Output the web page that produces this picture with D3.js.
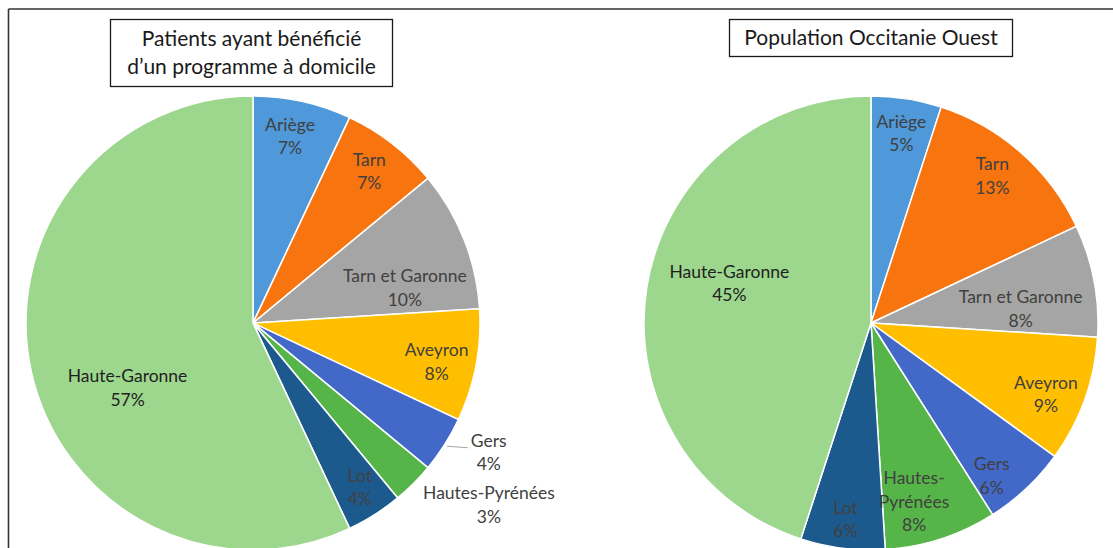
<!DOCTYPE html>
<html>
<head>
<meta charset="utf-8">
<script src="https://cdn.jsdelivr.net/npm/d3@7"></script>
<style>
    body { margin: 0; background: #fff; }
    svg { display: block; }
    text { font-family: Lato, "Open Sans", sans-serif; }
</style>
</head>
<body>
<svg id="chart" width="1113" height="548"></svg>
<script>
// departments, in pie order (clockwise from 12 o'clock)
const departments = ['Ariège', 'Tarn', 'Tarn et Garonne', 'Aveyron', 'Gers', 'Hautes-Pyrénées', 'Lot', 'Haute-Garonne'];
const patientsPct = [7, 7, 10, 8, 4, 3, 4, 57];
const populationPct = [5, 13, 8, 9, 6, 8, 6, 45];
const titles = [['Patients ayant bénéficié', 'd\u2019un programme à domicile'], ['Population Occitanie Ouest']];

const colors = {
    'Ariège': '#4f98d9',
    'Tarn': '#f7740e',
    'Tarn et Garonne': '#a5a5a5',
    'Aveyron': '#ffbf00',
    'Gers': '#4269c8',
    'Hautes-Pyrénées': '#56b548',
    'Lot': '#1c5a8e',
    'Haute-Garonne': '#9dd68d'
};

const svg = d3.select('#chart');

// outer frame (only top and left edges are visible)
svg.append('line').attr('x1', 8.5).attr('y1', 9).attr('x2', 1113).attr('y2', 9)
    .attr('stroke', '#333').attr('stroke-width', 1.6);
svg.append('line').attr('x1', 8.5).attr('y1', 9).attr('x2', 8.5).attr('y2', 548)
    .attr('stroke', '#333').attr('stroke-width', 1.6);

const radius = 227;
const pie = d3.pie().sort(null).value(d => d.value);
const arc = d3.arc().innerRadius(0).outerRadius(radius);
const labelArc = d3.arc().innerRadius(188).outerRadius(188);

// label nudges (best-fit placement)
const nudgeLeft = {
    'Ariège': [-4, -3], 'Tarn': [1, -3], 'Tarn et Garonne': [-23, 34], 'Aveyron': [-1, 4],
    'Gers': [77, 29], 'Hautes-Pyrénées': [103, 49], 'Lot': [6, 6], 'Haute-Garonne': [58, 24]
};
const nudgeRight = {
    'Ariège': [1, -4], 'Tarn': [-3, -6], 'Tarn et Garonne': [-35, 21], 'Aveyron': [-2, 8],
    'Gers': [-8, 16], 'Hautes-Pyrénées': [-15, 0], 'Lot': [-2, 10], 'Haute-Garonne': [44, -10]
};

function drawPie(cx, cy, values, nudge, outside) {
    const data = departments.map((name, i) => ({ name, value: values[i] }));
    const g = svg.append('g').attr('transform', `translate(${cx},${cy})`);
    const arcs = pie(data);

    g.selectAll('path')
        .data(arcs)
        .enter()
        .append('path')
        .attr('d', arc)
        .attr('fill', d => colors[d.data.name])
        .attr('stroke', '#fff')
        .attr('stroke-width', 1.5);

    arcs.forEach(d => {
        const c = labelArc.centroid(d);
        const n = nudge[d.data.name];
        const x = c[0] + n[0], y = c[1] + n[1];
        let lines = [d.data.name, d.data.value + '%'];
        if (!outside.includes(d.data.name) && d.data.name === 'Hautes-Pyrénées') {
            lines = ['Hautes-', 'Pyrénées', d.data.value + '%'];
        }
        const lh = 23.5;
        const t = g.append('text')
            .attr('text-anchor', 'middle')
            .attr('font-size', 17.5)
            .attr('fill', d.data.name === 'Haute-Garonne' ? '#1f1f1f' : '#404040');
        lines.forEach((s, i) => {
            t.append('tspan')
                .attr('x', x)
                .attr('y', y + (i - (lines.length - 1) / 2) * lh + 6)
                .text(s);
        });
        if (d.data.name === 'Gers' && outside.includes('Gers')) {
            const a = (d.startAngle + d.endAngle) / 2;
            const p0 = [Math.sin(a) * (radius + 3), -Math.cos(a) * (radius + 3)];
            g.append('line')
                .attr('x1', p0[0]).attr('y1', p0[1])
                .attr('x2', x - 21).attr('y2', y - 5)
                .attr('stroke', '#a6a6a6').attr('stroke-width', 1);
        }
    });
}

drawPie(253, 323, patientsPct, nudgeLeft, ['Gers', 'Hautes-Pyrénées']);
drawPie(871, 323, populationPct, nudgeRight, []);

// title boxes
function drawTitle(x, y, w, h, lines) {
    svg.append('rect').attr('x', x).attr('y', y).attr('width', w).attr('height', h)
        .attr('fill', '#fff').attr('stroke', '#1a1a1a').attr('stroke-width', 1.3);
    const t = svg.append('text')
        .attr('text-anchor', 'middle')
        .attr('font-size', 21)
        .attr('fill', '#1a1a1a');
    lines.forEach((s, i) => {
        t.append('tspan')
            .attr('x', x + w / 2)
            .attr('y', y + h / 2 + (i - (lines.length - 1) / 2) * 28 + 7)
            .text(s);
    });
}

drawTitle(110.5, 19.5, 282, 67, titles[0]);
drawTitle(729.5, 19.5, 283, 37, titles[1]);
</script>
</body>
</html>
